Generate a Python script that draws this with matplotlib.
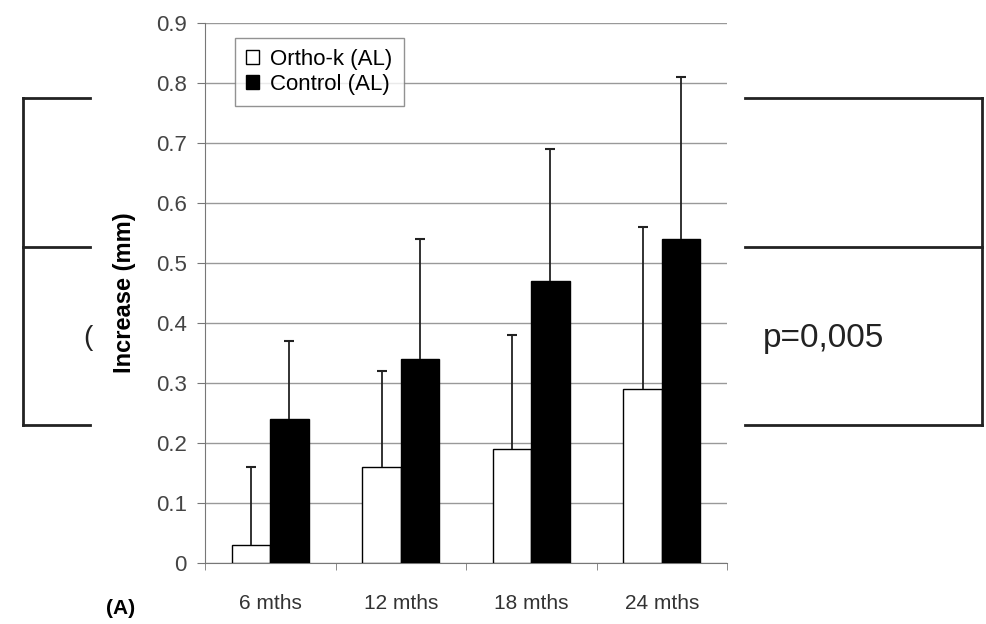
import matplotlib.pyplot as plt
import numpy as np
from matplotlib.lines import Line2D

plt.rcParams['font.family'] = ['Liberation Sans', 'DejaVu Sans']

periods = ["6 mths", "12 mths", "18 mths", "24 mths"]
orthok_mean = [0.03, 0.16, 0.19, 0.29]
orthok_sd = [0.13, 0.16, 0.19, 0.27]
control_mean = [0.24, 0.34, 0.47, 0.54]
control_sd = [0.13, 0.20, 0.22, 0.27]
yticks = [0, 0.1, 0.2, 0.3, 0.4, 0.5, 0.6, 0.7, 0.8, 0.9]

W, H = 987, 624
fig = plt.figure(figsize=(W / 100, H / 100), dpi=100)
ax = fig.add_axes([205 / W, 1 - 563 / H, 522 / W, 540 / H])

x = np.arange(len(periods))
w = 0.295
offsets = [(-w / 2, orthok_mean, orthok_sd, "white", "Ortho-k (AL)"),
           (w / 2, control_mean, control_sd, "black", "Control (AL)")]
for off, m, sd, col, lab in offsets:
    m = np.array(m)
    sd = np.array(sd)
    ax.bar(x + off, m, w, color=col, edgecolor="black", linewidth=1, label=lab, zorder=3)
    # upper-only error bars with a small cap
    ax.vlines(x + off, m, m + sd, color="#222222", linewidth=1.3, zorder=4)
    ax.plot(x + off, m + sd, ls="none", marker="_", markersize=7, mew=1.5,
            color="#222222", zorder=4)

ax.set_xlim(-0.5, 3.5)
ax.set_ylim(0, 0.9)
ax.set_yticks(yticks)
ax.set_yticklabels(["0"] + [f"{v:.1f}" for v in yticks[1:]])
ax.grid(axis="y", color="#999999", linewidth=1)
ax.set_axisbelow(True)
for s in ["top", "right"]:
    ax.spines[s].set_visible(False)
ax.spines["left"].set_color("#777777")
ax.spines["bottom"].set_color("#777777")
ax.tick_params(axis="y", labelsize=16, colors="#777777", labelcolor="#444444", length=6, pad=7)

ax.set_xticks(x)
ax.set_xticklabels(periods, fontsize=15, color="#333333")
ax.tick_params(axis="x", length=0, pad=22)
ax.set_xticks(np.arange(-0.5, 4, 1), minor=True)
ax.tick_params(axis="x", which="minor", length=5, color="#777777")

ax.set_ylabel("Increase (mm)", fontsize=17, fontweight="bold", labelpad=14)

leg = ax.legend(loc="upper left", bbox_to_anchor=(0.057, 0.973), fontsize=16,
                frameon=True, fancybox=False, edgecolor="#777777", handlelength=0.6,
                handleheight=0.6, handletextpad=0.5, borderpad=0.5, labelspacing=0.2,
                borderaxespad=0)
leg.get_frame().set_linewidth(1)

fig.text(121 / W, 1 - 608 / H, "(A)", fontsize=15, fontweight="bold", ha="center", va="center")


def seg(x0, y0, x1, y1):
    fig.add_artist(Line2D([x0 / W, x1 / W], [1 - y0 / H, 1 - y1 / H], color="#222222",
                          linewidth=2, transform=fig.transFigure))


# side brackets
seg(23, 98, 23, 425)
for yy in (98, 247, 425):
    seg(23, yy, 90, yy)
seg(982, 98, 982, 425)
for yy in (98, 247, 425):
    seg(745, yy, 982, yy)
fig.text(824 / W, 1 - 338 / H, "p=0,005", fontsize=24, ha="center", va="center", color="#222222")
fig.text(88 / W, 1 - 338 / H, "(", fontsize=20, ha="center", va="center", color="#222222")

fig.savefig("out.png", dpi=100)
